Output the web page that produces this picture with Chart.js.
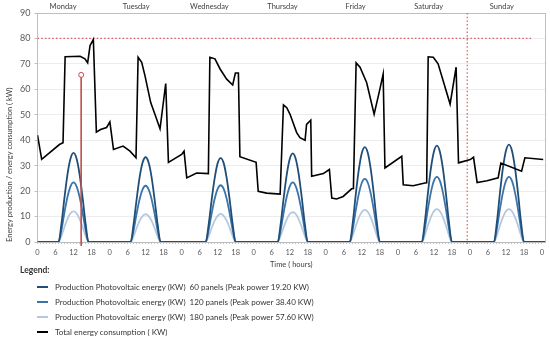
<!DOCTYPE html>
<html>
<head>
<meta charset="utf-8">
<script src="https://cdn.jsdelivr.net/npm/chart.js@4.4.1/dist/chart.umd.min.js"></script>
<style>
  body { margin: 0; background: #fff; font-family: Lato, sans-serif; }
  #wrap { position: relative; width: 550px; height: 339px; }
  #box { position: absolute; left: 0; top: 0; width: 550px; height: 272px; }
  #legend { position: absolute; left: 0; top: 265px; width: 550px; font-size: 8px; color: #333; }
  #legend .title { position: absolute; left: 20px; top: 0; font-weight: bold; font-size: 8.5px; }
  #legend .row { position: absolute; left: 0; height: 14px; line-height: 14px; white-space: pre; }
  #legend .swatch { position: absolute; left: 37px; top: 6px; width: 11px; height: 2px; }
  #legend .txt { position: absolute; left: 55px; top: 0; }
</style>
</head>
<body>
<div id="wrap">
  <div id="box"><canvas id="energyChart"></canvas></div>
  <div id="legend"></div>
</div>
<script>
const days = ["Monday", "Tuesday", "Wednesday", "Thursday", "Friday", "Saturday", "Sunday"];

// total consumption (kW), breakpoints
const consHours = [0, 1.4, 7.3, 8.5, 9.2, 14.2, 15.8, 16.7, 17.5, 18.6, 19.6, 21, 23, 24.1, 25.3, 28.5, 30.8, 32.8,
  33.5, 34.7, 35.8, 37.7, 39.1, 40.8, 42.7, 43.6, 48, 48.8, 49.7, 53, 56.9, 57.4, 59.1, 60.8, 63, 65, 65.9, 66.9,
  67.4, 72.8, 73.5, 76.3, 80.8, 81.9, 83, 84.1, 86.3, 87.4, 89.1, 89.6, 91, 91.3, 95.2, 97.2, 98, 99.6, 101.8,
  104.6, 105.2, 106.1, 107.4, 109.6, 112.1, 114, 115.1, 115.7, 121.3, 121.8, 125.1, 129, 129.6, 130.1, 131.8,
  133.4, 137.4, 139.4, 140.2, 144.1, 145.2, 146.4, 149.7, 153.4, 154.3, 161.2, 162.3, 168.4];
const consValues = [42, 32.5, 38.3, 39, 72.8, 73, 72, 70.4, 77.2, 79.6, 43.2, 44.2, 45, 47.2, 36.4, 37.7, 35.7, 33.1,
  72.6, 70.6, 65.3, 54.8, 50.2, 44.5, 62.3, 31.3, 34.4, 35.7, 25.2, 27.1, 26.9, 72.6, 72, 68, 64, 61.7, 66.4, 66.4,
  33.5, 31.3, 19.9, 19.2, 18.8, 53.9, 52.8, 50.2, 43, 41, 40, 46.2, 47.9, 25.8, 26.9, 28.5, 17.3, 16.9, 17.9,
  20.9, 21, 70.4, 68.7, 62.7, 50.2, 60, 66, 29.1, 33.7, 22.5, 22.1, 23.2, 23.3, 72.8, 72.6,
  70, 54.2, 68.7, 31.1, 32.4, 33.3, 23.4, 24.1, 25.2, 31, 27.8, 33.1, 32.4];

// first hour of each day's production window (hourly values follow)
const pvStart = [7, 31, 56, 80, 104, 128, 152];

const pv60 = [
  [0, 7.4, 17.6, 26.7, 32.8, 35, 32.8, 26.7, 17.6, 7.4, 0],
  [0, 7, 16.7, 25.4, 31.2, 33.3, 31.2, 25.4, 16.7, 7, 0],
  [0, 6.9, 16.6, 25.1, 31, 33, 31, 25.1, 16.6, 6.9, 0],
  [0, 7.3, 17.5, 26.5, 32.6, 34.8, 32.6, 26.5, 17.5, 7.3, 0],
  [0, 7.8, 18.8, 28.4, 35, 37.3, 35, 28.4, 18.8, 7.8, 0],
  [0, 8, 19.1, 28.9, 35.5, 37.9, 35.5, 28.9, 19.1, 8, 0],
  [0, 8, 19.3, 29.2, 35.9, 38.3, 35.9, 29.2, 19.3, 8, 0]
];
const pv120 = [
  [0, 4.9, 11.8, 17.8, 21.9, 23.4, 21.9, 17.8, 11.8, 4.9, 0],
  [0, 4.6, 11.1, 16.8, 20.7, 22.1, 20.7, 16.8, 11.1, 4.6, 0],
  [0, 4.7, 11.2, 17, 20.9, 22.3, 20.9, 17, 11.2, 4.7, 0],
  [0, 4.9, 11.8, 17.8, 21.9, 23.4, 21.9, 17.8, 11.8, 4.9, 0],
  [0, 5.2, 12.5, 18.9, 23.3, 24.8, 23.3, 18.9, 12.5, 5.2, 0],
  [0, 5.4, 12.9, 19.5, 24, 25.6, 24, 19.5, 12.9, 5.4, 0],
  [0, 5.4, 12.9, 19.5, 24, 25.6, 24, 19.5, 12.9, 5.4, 0]
];
const pv180 = [
  [0, 2.5, 6, 9.1, 11.3, 12, 11.3, 9.1, 6, 2.5, 0],
  [0, 2.3, 5.5, 8.3, 10.2, 10.9, 10.2, 8.3, 5.5, 2.3, 0],
  [0, 2.3, 5.5, 8.4, 10.3, 11, 10.3, 8.4, 5.5, 2.3, 0],
  [0, 2.5, 5.9, 8.9, 11, 11.7, 11, 8.9, 5.9, 2.5, 0],
  [0, 2.6, 6.3, 9.6, 11.8, 12.6, 11.8, 9.6, 6.3, 2.6, 0],
  [0, 2.7, 6.5, 9.8, 12.1, 12.9, 12.1, 9.8, 6.5, 2.7, 0],
  [0, 2.7, 6.5, 9.8, 12.1, 12.9, 12.1, 9.8, 6.5, 2.7, 0]
];

const limitKw = 80;
const markerHour = 14.55, markerKw = 65.7;
const sundayHour = 143.1;

function pvPoints(rows) {
  const pts = [{ x: 0, y: 0 }];
  rows.forEach((vals, d) => vals.forEach((v, i) => pts.push({ x: pvStart[d] + i, y: v })));
  pts.push({ x: 169, y: 0 });
  return pts;
}

Chart.defaults.font.family = "Lato, sans-serif";
Chart.defaults.color = "#595959";

const hourTicks = [];
for (let h = 0; h <= 168; h++) hourTicks.push({ value: h });

const ctx = document.getElementById("energyChart");

const chart = new Chart(ctx, {
  type: "line",
  data: {
    datasets: [
      {
        label: "Total energy consumption ( KW)",
        data: consHours.map((h, i) => ({ x: h, y: consValues[i] })),
        borderColor: "#000",
        borderWidth: 1.6,
        pointRadius: 0,
        tension: 0,
      },
      {
        label: "marker",
        data: [{ x: markerHour, y: markerKw }, { x: markerHour, y: -1.5 }],
        borderColor: "#c0504d",
        borderWidth: 1,
        pointRadius: [2.5, 0],
        pointBackgroundColor: "#fff",
        pointBorderColor: "#c0504d",
        pointBorderWidth: 1,
        clip: false,
      },
      {
        label: "Production Photovoltaic energy (KW)  60 panels (Peak power 19.20 KW)",
        data: pvPoints(pv60),
        borderColor: "#1f4e79",
        borderWidth: 1.8,
        pointRadius: 0,
        cubicInterpolationMode: "monotone",
      },
      {
        label: "Production Photovoltaic energy (KW)  120 panels (Peak power 38.40 KW)",
        data: pvPoints(pv120),
        borderColor: "#3d74a8",
        borderWidth: 1.8,
        pointRadius: 0,
        cubicInterpolationMode: "monotone",
      },
      {
        label: "Production Photovoltaic energy (KW)  180 panels (Peak power 57.60 KW)",
        data: pvPoints(pv180),
        borderColor: "#b3c8e1",
        borderWidth: 1.8,
        pointRadius: 0,
        cubicInterpolationMode: "monotone",
      },
      {
        label: "limit",
        data: [{ x: 0, y: limitKw }, { x: 165.1, y: limitKw }],
        borderColor: "#e05a5a",
        borderWidth: 1.2,
        borderDash: [1.5, 2.2],
        pointRadius: 0,
      },
      {
        label: "sunday",
        data: [{ x: sundayHour, y: 90 }, { x: sundayHour, y: -1.5 }],
        borderColor: "#e05a5a",
        borderWidth: 1.2,
        borderDash: [1.5, 2.2],
        pointRadius: 0,
        clip: false,
      },
    ],
  },
  options: {
    responsive: true,
    maintainAspectRatio: false,
    animation: false,
    layout: { padding: 0 },
    plugins: { legend: { display: false }, tooltip: { enabled: false } },
    scales: {
      x: {
        type: "linear",
        position: "bottom",
        min: 0,
        max: 169,
        afterBuildTicks: (s) => { s.ticks = hourTicks.slice(); },
        afterFit: (s) => { s.height = 30; },
        ticks: {
          autoSkip: false,
          maxRotation: 0,
          padding: 4,
          font: { size: 7.5 },
          callback: (v) => (v % 6 === 0 ? String(v % 24) : ""),
        },
        grid: { drawOnChartArea: false, tickLength: 2, tickColor: "#c4c4c4" },
        border: { color: "#bfbfbf" },
        title: { display: true, text: "Time ( hours)", color: "#404040", font: { size: 7.5 }, padding: { top: 0, bottom: 3 } },
      },
      xTop: {
        type: "linear",
        position: "top",
        min: -0.35,
        max: 6.59,
        afterBuildTicks: (s) => { s.ticks = days.map((d, i) => ({ value: i })); },
        afterFit: (s) => { s.height = 13; },
        ticks: { padding: 2, color: "#404040", font: { size: 7.5 }, callback: (v) => days[v] },
        grid: { drawOnChartArea: false, drawTicks: false },
        border: { color: "#bfbfbf" },
      },
      y: {
        min: 0,
        max: 90,
        afterFit: (s) => { s.width = 37.5; },
        ticks: { stepSize: 10, padding: 4, font: { size: 9 } },
        grid: { color: "#ececec", tickLength: 3, tickColor: "#bfbfbf" },
        border: { color: "#bfbfbf" },
        title: {
          display: true,
          text: "Energy production / energy consumption ( kW)",
          align: "start",
          color: "#404040",
          font: { size: 7.5 },
          padding: { top: 5.5 },
        },
      },
      yRight: {
        position: "right",
        min: 0,
        max: 90,
        afterFit: (s) => { s.width = 5; },
        ticks: { display: false },
        grid: { display: false, drawTicks: false },
        border: { color: "#bfbfbf" },
      },
    },
  },
});

// legend below the plot, in the reference's own layout
const legend = document.getElementById("legend");
legend.innerHTML = '<div class="title">Legend:</div>';
[2, 3, 4, 0].forEach((idx, row) => {
  const ds = chart.data.datasets[idx];
  const div = document.createElement("div");
  div.className = "row";
  div.style.top = (15 + row * 15) + "px";
  div.innerHTML = '<span class="swatch" style="background:' + ds.borderColor + '"></span><span class="txt"></span>';
  div.querySelector(".txt").textContent = ds.label;
  legend.appendChild(div);
});
</script>
</body>
</html>
